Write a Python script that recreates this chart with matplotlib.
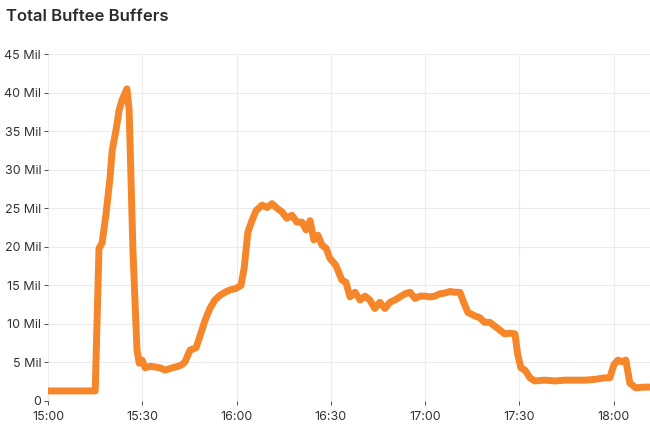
import matplotlib.pyplot as plt

plt.rcParams['font.family'] = ['Inter', 'DejaVu Sans']

# minutes after 15:00
minutes = [0, 14.6, 15.0, 16.2, 17.2, 18.5, 19.7, 20.4, 21.6, 22.6, 23.5, 25.1, 25.8, 27.0,
           28.3, 29.0, 29.9, 30.9, 32.5, 35.6, 37.2, 39.5, 41.4, 42.6, 43.6, 45.2, 47.1,
           48.4, 50.0, 51.5, 53.1, 54.7, 56.3, 57.9, 59.8, 61.4, 62.4, 63.6, 64.9, 66.2,
           68.1, 69.7, 71.3, 72.9, 74.5, 76.0, 77.6, 79.2, 80.8, 82.1, 83.4, 84.6, 85.9,
           87.2, 88.5, 89.7, 91.6, 93.5, 94.8, 96.1, 97.7, 99.3, 100.9, 102.4, 104.0,
           105.6, 107.2, 108.8, 110.4, 112.0, 113.6, 115.2, 116.8, 118.4, 119.9, 121.5,
           123.1, 124.7, 126.3, 127.9, 129.5, 131.1, 132.0, 133.6, 135.5, 137.4, 139.0,
           140.6, 142.2, 143.8, 145.4, 147.0, 148.6, 149.5, 150.5, 151.8, 153.4, 154.9,
           158.1, 161.3, 164.5, 167.7, 170.9, 174.0, 177.2, 178.8, 180.1, 181.4, 182.6,
           183.9, 185.2, 187.1, 190.0, 191.6]
# buffers, millions
buffers = [1.3, 1.3, 1.3, 19.8, 20.5, 24.5, 28.9, 32.5, 35.1, 37.7, 39.0, 40.5, 37.7, 19.6,
           6.6, 4.9, 5.3, 4.3, 4.5, 4.3, 4.0, 4.3, 4.5, 4.7, 5.1, 6.6, 6.9,
           8.5, 10.5, 12.0, 13.1, 13.7, 14.1, 14.4, 14.6, 15.0, 17.2, 21.9, 23.4, 24.7,
           25.4, 25.1, 25.6, 25.0, 24.5, 23.7, 24.1, 23.2, 23.2, 22.2, 23.4, 20.9, 21.5,
           20.2, 19.8, 18.5, 17.6, 15.7, 15.4, 13.5, 14.1, 13.1, 13.6, 13.1, 12.0,
           12.8, 12.0, 12.8, 13.1, 13.5, 13.9, 14.1, 13.3, 13.6, 13.6, 13.5,
           13.6, 13.9, 14.0, 14.2, 14.1, 14.1, 13.1, 11.5, 11.1, 10.8, 10.2,
           10.2, 9.7, 9.2, 8.7, 8.8, 8.7, 6.0, 4.3, 4.0, 3.0, 2.6,
           2.7, 2.6, 2.7, 2.7, 2.7, 2.8, 3.0, 3.0, 4.7, 5.3, 5.1,
           5.3, 2.3, 1.7, 1.8, 1.8]

x_ticks = [0, 30, 60, 90, 120, 150, 180]
x_labels = ['15:00', '15:30', '16:00', '16:30', '17:00', '17:30', '18:00']
y_ticks = [0, 5, 10, 15, 20, 25, 30, 35, 40, 45]
y_labels = ['0'] + [f'{v} Mil' for v in y_ticks[1:]]

fig = plt.figure(figsize=(6.5, 4.33), dpi=100)
ax = fig.add_axes([0.074, 0.074, 0.926, 0.801])
ax.plot(minutes, buffers, color='#F5862A', linewidth=5, solid_joinstyle='round',
        solid_capstyle='round')

ax.set_xlim(0, 191.6)
ax.set_ylim(0, 45)
ax.set_xticks(x_ticks)
ax.set_xticklabels(x_labels)
ax.set_yticks(y_ticks)
ax.set_yticklabels(y_labels)
ax.tick_params(labelsize=9, colors='#333333', length=3, width=0.6, pad=2)
ax.tick_params(axis='x', pad=4)
for s in ax.spines.values():
    s.set_visible(False)
ax.grid(True, color='#ececec', linewidth=0.8)
ax.set_axisbelow(True)

fig.text(0.009, 0.962, 'Total Buftee Buffers', fontsize=12, fontweight='semibold',
         color='#2b2b2b', va='center')

fig.savefig('out.png')
